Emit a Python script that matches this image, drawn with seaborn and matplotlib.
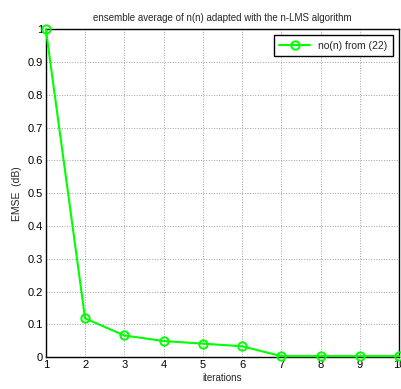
import pandas as pd
import matplotlib
matplotlib.use("Agg")
import matplotlib.pyplot as plt
import seaborn as sns

# data
iterations = [1, 2, 3, 4, 5, 6, 7, 8, 9, 10]
emse = [1.0, 0.118, 0.066, 0.049, 0.041, 0.033, 0.003, 0.003, 0.003, 0.003]
series_label = "no(n) from (22)"

df = pd.DataFrame({"iterations": iterations, "emse": emse})

sns.set_style("white")
plt.rcParams["font.family"] = ["Liberation Sans", "DejaVu Sans"]

fig = plt.figure(figsize=(4.02, 3.89), dpi=100)
ax = fig.add_axes([0.114, 0.082, 0.879, 0.843])

sns.lineplot(data=df, x="iterations", y="emse", ax=ax, color="#00ff00",
             linewidth=1.5, marker="o", markersize=6, markerfacecolor="none",
             markeredgecolor="#00ff00", markeredgewidth=1.4, label=series_label,
             clip_on=False, zorder=3)

ax.set_xlim(1, 10)
ax.set_ylim(0, 1)
ax.set_xticks(range(1, 11))
ax.set_yticks([0, 0.1, 0.2, 0.3, 0.4, 0.5, 0.6, 0.7, 0.8, 0.9, 1])
ax.set_yticklabels(["0", "0.1", "0.2", "0.3", "0.4", "0.5", "0.6", "0.7", "0.8", "0.9", "1"])
ax.grid(True, color="#a0a0a0", linestyle=":", linewidth=0.7)
ax.tick_params(direction="in", length=4, labelsize=8, colors="black", pad=2)
for s in ax.spines.values():
    s.set_color("black")
    s.set_linewidth(1.0)

ax.set_title("ensemble average of n(n) adapted with the n-LMS algorithm", fontsize=7, pad=6)
ax.set_xlabel("iterations", fontsize=7, labelpad=2)
ax.set_ylabel("EMSE  (dB)", fontsize=7.5, labelpad=4)

leg = ax.legend(loc="upper right", fontsize=7.5, frameon=True, fancybox=False,
                edgecolor="black", framealpha=1, borderaxespad=0.6, handlelength=3,
                borderpad=0.5)
leg.get_frame().set_linewidth(1.0)

fig.savefig("out.png", dpi=100)
